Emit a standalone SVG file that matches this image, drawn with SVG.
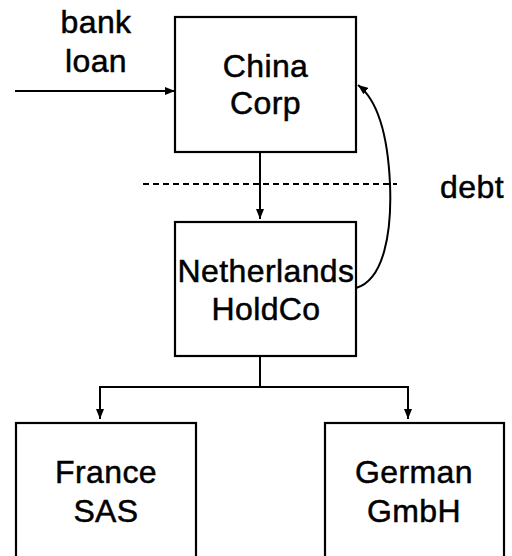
<svg xmlns="http://www.w3.org/2000/svg" width="512" height="556" viewBox="0 0 512 556">
  <style>
    .box { fill: #ffffff; stroke: #000000; stroke-width: 2.2; }
    .label { font-family: "Liberation Sans", Arial, sans-serif; font-size: 32px; fill: #000000; stroke: #000000; stroke-width: 0.5; letter-spacing: 0.4px; text-anchor: middle; }
    .conn { fill: none; stroke: #000000; stroke-width: 2; }
    .dash { fill: none; stroke: #000000; stroke-width: 1.8; stroke-dasharray: 6 4; }
  </style>
  <defs>
    <marker id="arrow" viewBox="0 0 10 8" refX="10" refY="4" markerWidth="10" markerHeight="8" markerUnits="userSpaceOnUse" orient="auto">
      <path d="M0,0 L10,4 L0,8 Z" fill="#000000"/>
    </marker>
  </defs>
  <rect width="512" height="556" fill="#ffffff"/>

  <!-- connectors -->
  <g id="connectors">
    <line class="conn" x1="15" y1="91" x2="175" y2="91" marker-end="url(#arrow)"/>
    <line class="conn" x1="260" y1="152" x2="260" y2="219" marker-end="url(#arrow)"/>
    <line class="dash" x1="143" y1="184" x2="397" y2="184"/>
    <path class="conn" d="M356,288 C384,280 392,232 390,184 C388,140 380,102 358,85" marker-end="url(#arrow)"/>
    <polyline class="conn" points="260,356 260,387"/>
    <polyline class="conn" points="100,418 100,387 408,387 408,418"/>
    <line class="conn" x1="100" y1="387" x2="100" y2="419" marker-end="url(#arrow)"/>
    <line class="conn" x1="408" y1="387" x2="408" y2="419" marker-end="url(#arrow)"/>
  </g>

  <!-- free labels -->
  <g id="bank-loan">
    <text class="label" x="96" y="33">bank</text>
    <text class="label" x="96" y="72">loan</text>
  </g>
  <g id="debt">
    <text class="label" x="472" y="198">debt</text>
  </g>

  <!-- nodes -->
  <g id="china-corp">
    <rect class="box" x="175" y="17" width="181" height="135"/>
    <text class="label" x="265.5" y="77">China</text>
    <text class="label" x="265.5" y="114">Corp</text>
  </g>
  <g id="netherlands-holdco">
    <rect class="box" x="175" y="222" width="181" height="134"/>
    <text class="label" x="266" y="282">Netherlands</text>
    <text class="label" x="266" y="320">HoldCo</text>
  </g>
  <g id="france-sas">
    <rect class="box" x="16" y="423" width="180" height="160"/>
    <text class="label" x="106" y="483">France</text>
    <text class="label" x="106" y="522">SAS</text>
  </g>
  <g id="german-gmbh">
    <rect class="box" x="325" y="423" width="179" height="160"/>
    <text class="label" x="414" y="483">German</text>
    <text class="label" x="414" y="522">GmbH</text>
  </g>
</svg>
